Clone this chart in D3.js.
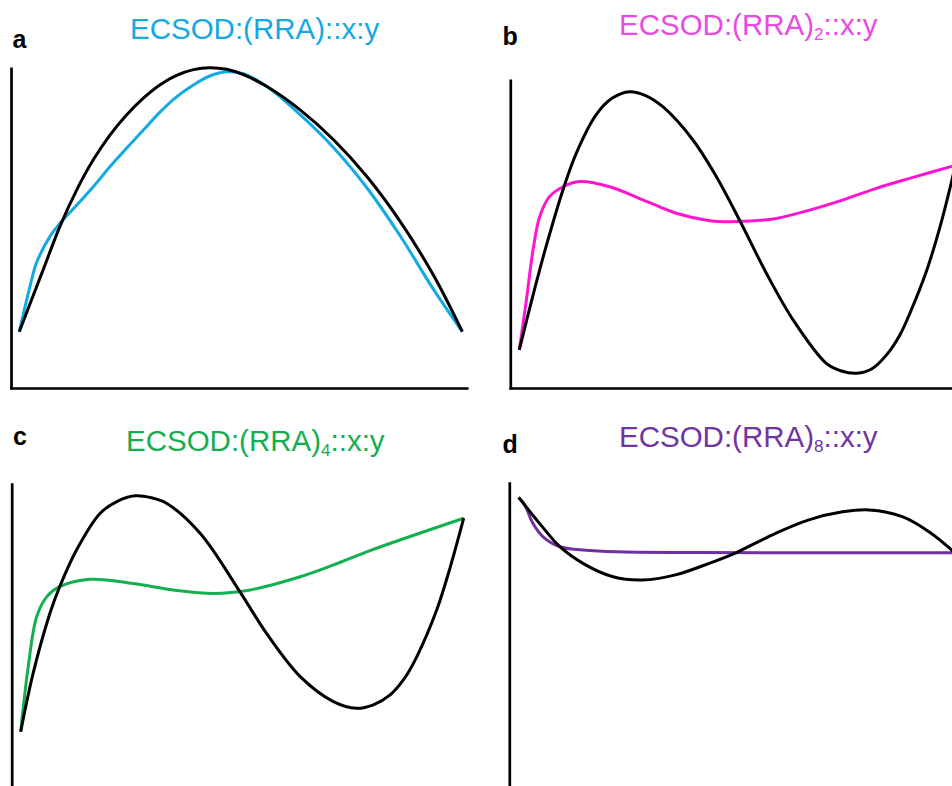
<!DOCTYPE html>
<html lang="en">
<head>
    <meta charset="UTF-8">
    <title>ECSOD curves</title>
    <script src="https://d3js.org/d3.v7.min.js"></script>
    <style>
        body {
            margin: 0;
            background: #fff;
            overflow: hidden;
        }
        svg {
            display: block;
        }
        .title {
            font-family: "Liberation Sans", Arial, sans-serif;
            font-size: 29.5px;
        }
        .label {
            font-family: "Liberation Sans", Arial, sans-serif;
            font-size: 25px;
            font-weight: bold;
        }
        .axis path {
            stroke: #000;
            stroke-width: 2.7px;
        }
        .curve {
            fill: none;
            stroke-linejoin: round;
        }
    </style>
</head>
<body>
    <svg width="952" height="786"></svg>
    <script>
        // panel letters and titles
        const panelLabels = ["a", "b", "c", "d"];
        const titleStem = "ECSOD:(RRA)";
        const titleSubs = ["", "2", "4", "8"];
        const titleTail = "::x:y";
        const titleColors = ["#15a8e2", "#e84ae4", "#16ad50", "#7134a2"];
        const lineColors = ["#12a9e4", "#ff14d2", "#12b04f", "#7030a0"];

        // curves, x 0..100, y 0..100
        const blackA = [[0, 17.6], [5.4, 37], [9.2, 50.6], [13, 62], [16.7, 71.3], [20.5, 79.1], [24.2, 85.3], [28, 90.6],
            [31.8, 94.8], [35.5, 97.7], [39.3, 99.5], [43, 100.1], [46.8, 99.6], [50.6, 97.9], [55.9, 94.2], [63.4, 86.9],
            [71, 77.5], [78.5, 66], [86, 52], [93.5, 35.2], [100, 17.6]];
        const blueA = [[0, 17.6], [2.4, 31.7], [3.9, 39.2], [6.9, 47.3], [9.2, 51.5], [13, 57.2], [16.7, 62.9],
            [20.5, 69.2], [24.2, 74.9], [28, 80.6], [31.8, 86.3], [35.5, 91], [39.3, 94.7], [43, 97.5], [46.8, 98.8],
            [50.6, 98.2], [55.9, 94.2], [63.4, 85.4], [71, 75], [78.5, 62.5], [86, 47.5], [93.5, 30.8], [100, 17.6]];

        const blackB = [[0, 11.9], [3, 28.5], [6, 44], [10, 62.5], [12.9, 73.5], [17.4, 85.5], [21, 90.6], [24.9, 92.6],
            [28.5, 91.4], [32.4, 87.9], [39.2, 77.5], [44.5, 66], [49.7, 52.5], [55.8, 35.8], [61.8, 21.3], [69.3, 7.7],
            [72.7, 5.3], [76.2, 4.6], [79.6, 6], [83, 10.5], [86, 16.8], [88.3, 23.8], [92, 36.9], [95, 50.5],
            [97.3, 62.9], [98.4, 69.6]];
        const magentaB = [[0, 11.9], [1.6, 27.5], [3.1, 43.1], [4.6, 53.5], [6.8, 59.8], [9.9, 62.9], [13.6, 64.5],
            [20.4, 62.9], [27.9, 58.8], [35.4, 54.6], [43, 52.3], [49, 52], [58, 53], [65.5, 55.6], [73.1, 58.8],
            [80.6, 62.4], [88.1, 65.5], [98.4, 69.6]];

        const blackC = [[0, 17.6], [2.8, 35.8], [6.6, 54.6], [8.8, 62.9], [12.6, 74.4], [17.9, 85.8], [21.8, 89.6],
            [25.8, 91.3], [29.5, 90.7], [32.9, 89], [40.5, 79.6], [49.5, 61.3], [55.5, 48.3], [63.1, 34.8], [70.6, 27],
            [75.8, 24.9], [79.6, 26], [83.4, 29.1], [86.5, 34], [89.4, 41], [93.9, 55.6], [97, 69.2], [100, 84.3]];
        const greenC = [[0, 17.6], [1.7, 37.9], [3.6, 53.5], [5.9, 59.8], [8.8, 62.9], [15.6, 65.2], [25.4, 63.9],
            [34.4, 61.9], [43.5, 60.8], [51.8, 61.9], [63.1, 66], [70.6, 69.7], [78.1, 73.8], [85.6, 77.5], [100, 84.3]];

        const blackD = [[0, 90.8], [4.7, 82.7], [9.3, 75.4], [14.5, 70.2], [21.3, 66], [27.9, 65], [35.4, 66.6],
            [43, 70.2], [49, 73.5], [58, 79.6], [65.5, 83.8], [73.1, 86.3], [79.1, 86.9], [86.6, 84.8], [92.6, 80.1],
            [97.7, 74.4], [99, 72.6]];
        const purpleD = [[0, 90.8], [1.4, 88.4], [3.2, 82.7], [5.5, 78.5], [9.3, 75.4], [14.5, 74.4], [22, 73.8],
            [40, 73.6], [65, 73.5], [99, 73.5]];

        const blackCurves = [blackA, blackB, blackC, blackD];
        const colorCurves = [blueA, magentaB, greenC, purpleD];

        // where each panel sits on the page
        const layout = [
            { x0: 19.3, oy: 388, axisX: 11, axisTop: 67, labelX: 12.5, labelY: 47.5, titleX: 130, titleY: 38.5, xAxis: true },
            { x0: 519.3, oy: 388, axisX: 510.3, axisTop: 79, labelX: 502.5, labelY: 44.5, titleX: 619, titleY: 34.5, xAxis: true },
            { x0: 20.7, oy: 788, axisX: 11.7, axisTop: 482.7, labelX: 13, labelY: 445, titleX: 126, titleY: 451, xAxis: false },
            { x0: 518.7, oy: 788, axisX: 509.3, axisTop: 481.7, labelX: 502.5, labelY: 452.5, titleX: 619, titleY: 446.5, xAxis: false }
        ];
        const plotW = 443;
        const plotH = 320;

        const svg = d3.select("svg");

        layout.forEach((p, i) => {
            const g = svg.append("g");
            const x = d3.scaleLinear().domain([0, 100]).range([p.x0, p.x0 + plotW]);
            const y = d3.scaleLinear().domain([0, 100]).range([p.oy, p.oy - plotH]);

            // y axis: plain line, no ticks
            const yTop = y.invert(p.axisTop);
            g.append("g")
                .attr("class", "axis")
                .attr("transform", `translate(${p.axisX},0)`)
                .call(d3.axisLeft(y.copy().domain([0, yTop]).range([p.oy + 1, p.axisTop])).ticks(0).tickSizeOuter(0));

            // x axis
            if (p.xAxis) {
                const xs = x.copy().domain([x.invert(p.axisX - 1.3), 101.3]).range([p.axisX - 1.3, x(101.3)]);
                g.append("g")
                    .attr("class", "axis")
                    .attr("transform", `translate(0,${p.oy})`)
                    .call(d3.axisBottom(xs).ticks(0).tickSizeOuter(0));
            }

            const line = d3.line()
                .x(d => x(d[0]))
                .y(d => y(d[1]))
                .curve(d3.curveCatmullRom.alpha(0.5));

            g.append("path")
                .attr("class", "curve")
                .attr("d", line(colorCurves[i]))
                .attr("stroke", lineColors[i])
                .attr("stroke-width", 3);

            g.append("path")
                .attr("class", "curve")
                .attr("d", line(blackCurves[i]))
                .attr("stroke", "#000")
                .attr("stroke-width", 3);

            // panel letter
            g.append("text")
                .attr("class", "label")
                .attr("x", p.labelX)
                .attr("y", p.labelY)
                .text(panelLabels[i]);

            // title with subscript
            const t = g.append("text")
                .attr("class", "title")
                .attr("x", p.titleX)
                .attr("y", p.titleY)
                .attr("fill", titleColors[i]);
            t.append("tspan").text(titleStem);
            if (titleSubs[i]) {
                t.append("tspan")
                    .attr("font-size", "17px")
                    .attr("dy", 5)
                    .text(titleSubs[i]);
                t.append("tspan").attr("dy", -5).text(titleTail);
            } else {
                t.append("tspan").text(titleTail);
            }
        });
    </script>
</body>
</html>
